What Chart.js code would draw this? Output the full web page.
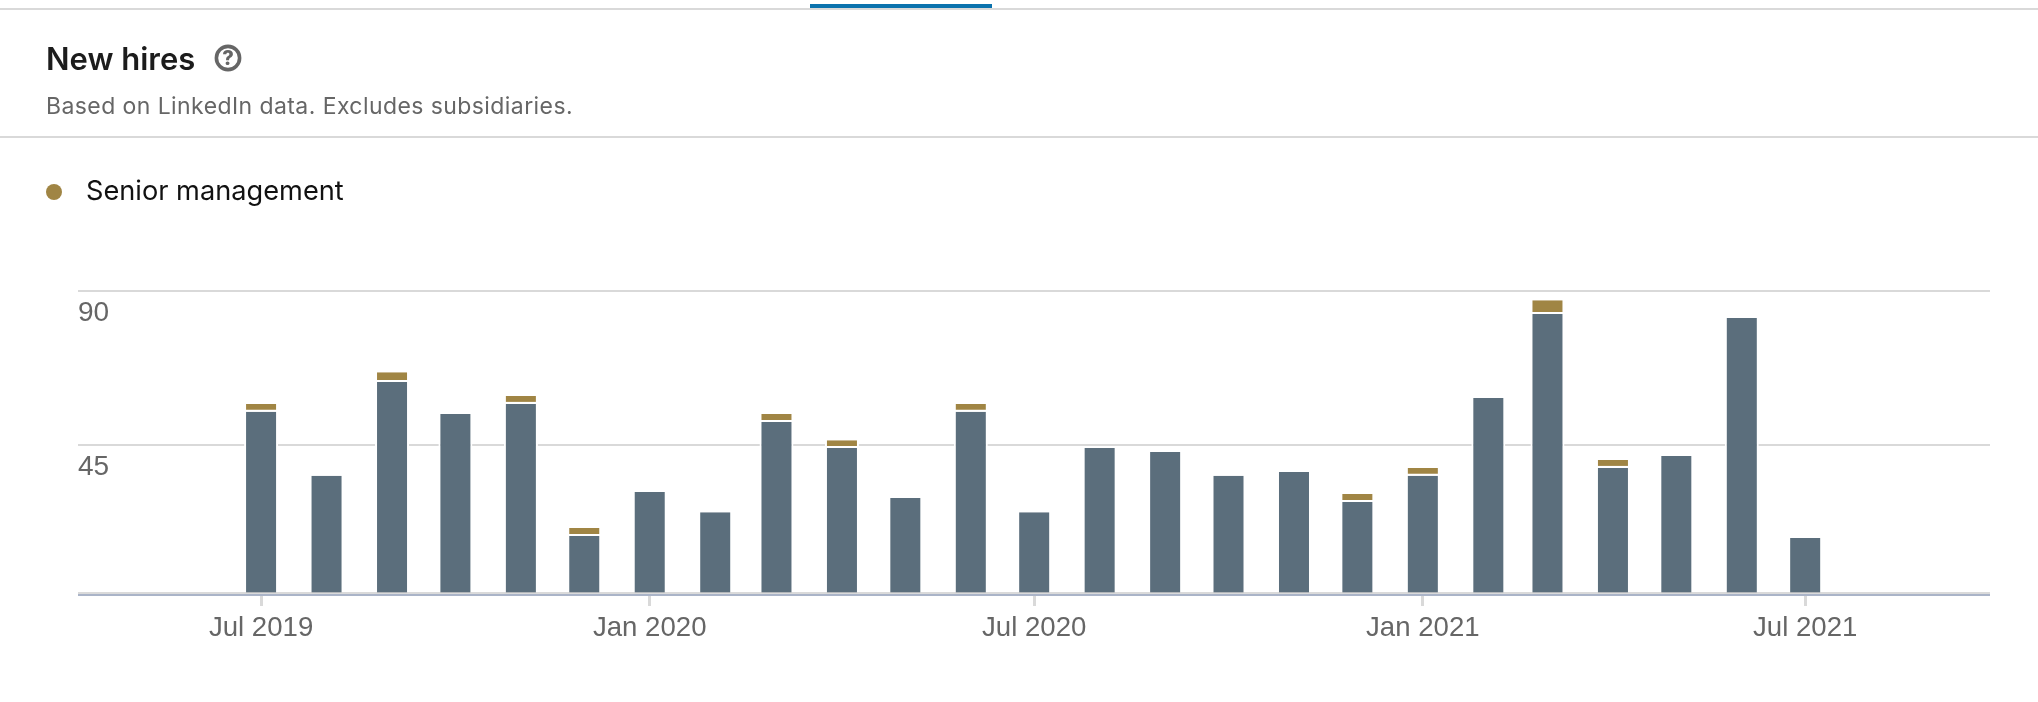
<!DOCTYPE html>
<html>
<head>
<meta charset="utf-8">
<script src="https://cdn.jsdelivr.net/npm/chart.js@4/dist/chart.umd.min.js"></script>
<style>
html,body{margin:0;padding:0;background:#fff;width:2038px;height:702px;overflow:hidden}
body{position:relative;font-family:Inter,"Noto Sans",sans-serif}
#wrap{position:absolute;left:0;top:0;width:2038px;height:702px}
.abs{position:absolute;white-space:nowrap;line-height:1}
#rule1{left:0;top:8px;width:2038px;height:2px;background:#d9d9d9}
#tab{left:810px;top:4px;width:182px;height:4px;background:#0a72ad}
#rule2{left:0;top:136px;width:2038px;height:2px;background:#d9d9d9}
#title{left:46px;top:43px;font-size:31px;font-weight:600;color:#1c1c1c}
#sub{left:46px;top:95px;font-size:23px;color:#666;letter-spacing:.42px}
#help{left:214px;top:44px}
#dot{left:46px;top:184px;width:16px;height:16px;border-radius:50%}
#leg{left:86px;top:177px;font-size:27.2px;color:#111}
</style>
</head>
<body>
<div id="wrap"><canvas id="c" width="2038" height="702"></canvas></div>
<div class="abs" id="rule1"></div>
<div class="abs" id="tab"></div>
<div class="abs" id="rule2"></div>
<div class="abs" id="title">New hires</div>
<svg class="abs" id="help" width="28" height="28" viewBox="0 0 28 28">
  <circle cx="14" cy="14" r="11.6" fill="none" stroke="#666" stroke-width="3.6"/>
  <text x="14" y="21" text-anchor="middle" font-family="Inter" font-weight="800" font-size="20" fill="#666">?</text>
</svg>
<div class="abs" id="sub">Based on LinkedIn data. Excludes subsidiaries.</div>
<div class="abs" id="dot"></div>
<div class="abs" id="leg"></div>
<script>
const months = ['2019-07','2019-08','2019-09','2019-10','2019-11','2019-12',
  '2020-01','2020-02','2020-03','2020-04','2020-05','2020-06','2020-07','2020-08','2020-09','2020-10','2020-11','2020-12',
  '2021-01','2021-02','2021-03','2021-04','2021-05','2021-06','2021-07'];
const otherHires = [55.2,35.8,64.2,54.5,57.6,17.6,30.9,24.8,52.1,44.2,29.1,55.2,24.8,44.2,43.0,35.8,37.0,27.9,35.8,59.4,84.8,38.2,41.8,83.6,17.0];
const seniorHires = [2.4,null,3.0,null,2.4,2.4,null,null,2.4,2.4,null,2.4,null,null,null,null,null,2.4,2.4,null,4.2,2.4,null,null,null];
const seriesName = 'Senior management';
const xTickMonths = ['2019-07','2020-01','2020-07','2021-01','2021-07'];
const xTickLabels = ['Jul 2019','Jan 2020','Jul 2020','Jan 2021','Jul 2021'];
const yTickValues = [0,45,91.8];
const yTickLabels = ['','45','90'];
const xStart = '2019-04-05T08:00:00Z';
const xEnd = '2021-09-26T12:00:00Z';

const colGray = '#5b6e7c', colGold = '#a08544', colGrid = '#d9d9d9', colAxis = '#aab4c8', colText = '#666666';
document.getElementById('leg').textContent = seriesName;
document.getElementById('dot').style.background = colGold;

const ms = s => Date.parse(s.length === 7 ? s + '-01T00:00:00Z' : s);
const points = arr => arr.map((v,i) => ({x: ms(months[i]), y: v}));

const baseline = {
  id: 'baseline',
  afterDatasetsDraw(chart){
    const {ctx, chartArea:{left,right}, scales:{y}} = chart;
    const p = Math.round(y.getPixelForValue(0));
    ctx.save();
    ctx.fillStyle = 'rgba(205,205,205,.75)';
    ctx.fillRect(left, p-2, right-left, 2);
    ctx.fillStyle = colAxis;
    ctx.fillRect(left, p, right-left, 2);
    ctx.restore();
  }
};

new Chart(document.getElementById('c'), {
  type: 'bar',
  data: {
    datasets: [
      {label:'Other', data: points(otherHires), backgroundColor: colGray, borderColor:'#fff',
       borderWidth:{left:2,right:2,top:0,bottom:0}, borderSkipped:false, inflateAmount:0, barThickness:34},
      {label:seriesName, data: points(seniorHires), backgroundColor: colGold, borderColor:'#fff',
       borderWidth:{left:2,right:2,top:0,bottom:2}, borderSkipped:false, inflateAmount:0, barThickness:34}
    ]
  },
  plugins:[baseline],
  options: {
    responsive:false, animation:false,
    layout:{padding:{left:78,right:48,top:291,bottom:48}},
    plugins:{legend:{display:false},title:{display:false},tooltip:{enabled:false}},
    scales:{
      x:{
        type:'linear', stacked:true, offset:false, min:ms(xStart), max:ms(xEnd),
        afterBuildTicks(s){ s.ticks = xTickMonths.map(m => ({value:ms(m)})); },
        afterFit(s){ s.height = 60; },
        border:{display:false},
        grid:{offset:false, drawOnChartArea:false, drawTicks:true, tickLength:12, tickColor:colGrid, tickWidth:3},
        ticks:{autoSkip:false, maxRotation:0, padding:6, color:colText,
          font:{family:'"Liberation Sans"',size:27.6},
          callback:(v,i)=>xTickLabels[i]}
      },
      y:{
        stacked:true, min:0, max:91.8,
        afterBuildTicks(s){ s.ticks = yTickValues.map(v => ({value:v})); },
        afterFit(s){ s.width = 0; },
        border:{display:false},
        grid:{color:c => c.index===0 ? 'rgba(0,0,0,0)' : colGrid, lineWidth:2, drawTicks:false},
        ticks:{mirror:true, padding:0, labelOffset:22, color:colText, autoSkip:false,
          font:{family:'"Liberation Sans"',size:28},
          callback:(v,i)=>yTickLabels[i]}
      }
    }
  }
});
</script>
</body>
</html>
